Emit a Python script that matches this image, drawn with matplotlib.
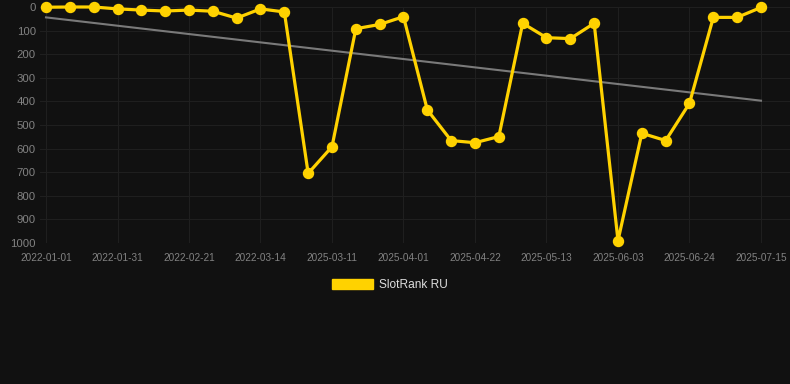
import numpy as np
from matplotlib import pyplot as plt
from matplotlib.patches import Patch

dates = ['2022-01-01', '', '', '2022-01-31', '', '', '2022-02-21', '', '', '2022-03-14',
         '', '', '2025-03-11', '', '', '2025-04-01', '', '', '2025-04-22', '', '',
         '2025-05-13', '', '', '2025-06-03', '', '', '2025-06-24', '', '', '2025-07-15']
ranks = [1, 0, 0, 8, 13, 17, 13, 18, 47, 8, 21, 705, 592, 92, 74, 41, 436, 566, 575,
         549, 69, 130, 134, 69, 990, 535, 566, 408, 44, 44, 2]
trend = [44, 397]
series_name = 'SlotRank RU'

bg = '#111111'
gold = '#FFD200'
plt.rcParams['font.family'] = ['Liberation Sans', 'DejaVu Sans']

fig = plt.figure(figsize=(7.9, 3.84), dpi=100, facecolor=bg)
ax = fig.add_axes([40 / 790, 1 - 243 / 384, 750 / 790, 236 / 384])
ax.set_facecolor(bg)

x = np.arange(len(ranks))
ax.plot([x[0], x[-1]], trend, color='#7a7a7a', lw=1.5, zorder=2)
ax.plot(x, ranks, color=gold, lw=2.3, marker='o', ms=7.2, zorder=3, clip_on=False)

ax.set_ylim(1000, 0)
ax.set_xlim(-6 / 23.83, 30 + 29 / 23.83)
ax.set_yticks(range(0, 1001, 100))
ticks = [i for i, d in enumerate(dates) if d]
ax.set_xticks(ticks)
ax.set_xticklabels([dates[i] for i in ticks])
ax.tick_params(axis='x', labelsize=7.2, length=0, pad=7)
ax.tick_params(axis='y', labelsize=8.2, length=0, pad=3)
for lab in ax.get_xticklabels() + ax.get_yticklabels():
    lab.set_color('#828282')
ax.grid(True, color='#1f1f1f', lw=0.8)
ax.set_axisbelow(True)
for s in ax.spines.values():
    s.set_visible(False)

fig.legend(handles=[Patch(color=gold, label=series_name)], loc='center',
           bbox_to_anchor=(390 / 790, 1 - 285 / 384), frameon=False,
           fontsize=8.6, labelcolor='#dddddd', handlelength=3.4, handleheight=0.9,
           handletextpad=0.5)

fig.savefig('out.png', dpi=100, facecolor=bg)
